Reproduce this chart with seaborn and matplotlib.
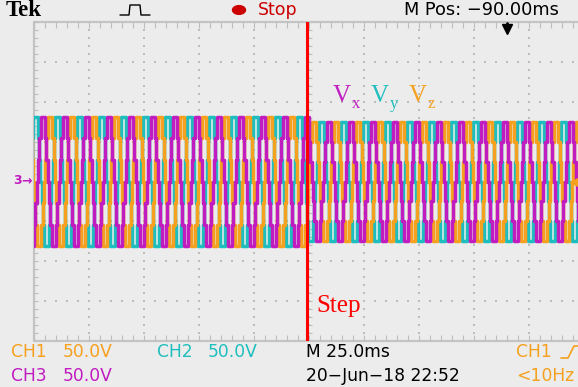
import numpy as np
import pandas as pd
import matplotlib
matplotlib.use("Agg")
import matplotlib.pyplot as plt
import seaborn as sns
from matplotlib.patches import Circle
from matplotlib.lines import Line2D

# ---- scope settings -------------------------------------------------------
time_per_div_ms = 25.0
volts_per_div = 50.0
period_ms = 10.0            # 100 Hz fundamental
step_time_ms = -1.0         # instant of the step change
trigger_pos_ms = 90.0

# seven-level staircase: switching angles (deg) of the first quarter cycle
# and the voltage of one level before / after the step
switch_angles_deg = [9.6, 30.0, 56.4]
level_volts_before = 27.0
level_volts_after = 25.0

# channels: rising zero crossing of each phase (ms)
channels = ["CH3", "CH2", "CH1"]
channel_subs = ["x", "y", "z"]
zero_cross_ms = [6.5, 3.17, 9.83]
colors = {"CH1": "#f5a01e", "CH2": "#1fbebe", "CH3": "#c01cc0"}

# one cycle of (angle, level index) transitions
a1, a2, a3 = switch_angles_deg
cycle = [(0, 0), (a1, 1), (a2, 2), (a3, 3), (180 - a3, 2), (180 - a2, 1),
         (180 - a1, 0), (180 + a1, -1), (180 + a2, -2), (180 + a3, -3),
         (360 - a3, -2), (360 - a2, -1), (360 - a1, 0)]

# ---- build the stepped traces ---------------------------------------------
t_start, t_end = -125.0, -125.0 + 544 / 55 * time_per_div_ms
rows = []
for ch, zc in zip(channels, zero_cross_ms):
    n0 = int(np.floor((t_start - zc) / period_ms)) - 1
    n1 = int(np.ceil((t_end - zc) / period_ms)) + 1
    for n in range(n0, n1 + 1):
        for ang, lvl in cycle:
            t = zc + (n + ang / 360.0) * period_ms
            step = level_volts_before if t < step_time_ms else level_volts_after
            rows.append((t, lvl * step, ch))
df = pd.DataFrame(rows, columns=["t", "v", "channel"])

# ---- figure ----------------------------------------------------------------
sns.set_theme(style="white")
plt.rcParams["font.family"] = ["DejaVu Sans"]
W, H = 578, 387
fig = plt.figure(figsize=(W / 100, H / 100), dpi=100, facecolor="#ececec")

left, top, bottom = 34, 22, 341
ax = fig.add_axes([left / W, (H - bottom) / H, (W - left) / W, (bottom - top) / H])
ax.set_facecolor("white")
ax.set_axis_off()

grid_c = "#bdbdbd"
# graticule dots
xs_minor = np.arange(-125, 126, time_per_div_ms / 5)
ys_minor = np.arange(-200, 201, volts_per_div / 5)
for k in range(1, 10):
    xg = -125 + k * time_per_div_ms
    ax.scatter(np.full_like(ys_minor, xg), ys_minor, s=1.6, marker="s",
               color=grid_c, linewidths=0, zorder=1)
for m in range(1, 8):
    yg = -200 + m * volts_per_div
    ax.scatter(xs_minor, np.full_like(xs_minor, yg), s=1.6, marker="s",
               color=grid_c, linewidths=0, zorder=1)
# centre-line ticks
ax.vlines(xs_minor, -3.5, 3.5, color=grid_c, lw=0.8, zorder=1)
ax.hlines(ys_minor, -1.4, 1.4, color=grid_c, lw=0.8, zorder=1)
# frame with edge ticks
frame_c = "#c4c4c4"
ax.plot([t_start, t_end], [200, 200], color=frame_c, lw=1.6, zorder=1, clip_on=False)
ax.plot([t_start, t_end], [-200, -200], color=frame_c, lw=1.6, zorder=1, clip_on=False)
ax.plot([t_start, t_start], [-200, 200], color=frame_c, lw=1.6, zorder=1, clip_on=False)
ax.vlines(xs_minor, 193, 200, color=grid_c, lw=0.8, zorder=1)
ax.vlines(xs_minor, -200, -193, color=grid_c, lw=0.8, zorder=1)
ax.hlines(ys_minor, -125, -123.2, color=grid_c, lw=0.8, zorder=1)

# traces
sns.lineplot(data=df, x="t", y="v", hue="channel",
             hue_order=["CH2", "CH1", "CH3"], palette=colors,
             estimator=None, sort=False, drawstyle="steps-post",
             lw=2.5, legend=False, ax=ax, zorder=3)
ax.set_xlim(t_start, t_end)
ax.set_ylim(-4 * volts_per_div, 4 * volts_per_div)

# step marker
ax.axvline(step_time_ms, color="#ff0000", lw=2.2, zorder=4)
ax.text(step_time_ms + 4.5, -156, "Step", color="#ff0000", fontsize=18,
        family="Liberation Serif", va="center", ha="left", zorder=5)

# phase labels
lab_x = [333, 371, 409]
for ch, s, xp in zip(channels, channel_subs, lab_x):
    fig.text(xp / W, 1 - 96 / H, "V", color=colors[ch], fontsize=18,
             family="Liberation Serif", va="center", ha="left")
    fig.text((xp + 19) / W, 1 - 104 / H, s, color=colors[ch], fontsize=12,
             family="Liberation Serif", va="center", ha="left")

# trigger position and level markers
ax.plot([trigger_pos_ms], [191], marker="v", ms=7, color="black",
        clip_on=False, zorder=6)
ax.plot([trigger_pos_ms, trigger_pos_ms], [191, 199], color="black", lw=2,
        clip_on=False, zorder=6)
ax.plot([t_end - 1.0], [0], marker="<", ms=8, color=colors["CH1"],
        clip_on=False, zorder=6)

# ---- status text ----------------------------------------------------------
def px(x, y, s, c="black", size=12.3, **kw):
    fig.text(x / W, 1 - y / H, s, color=c, va="center", ha="left",
             fontsize=size, **kw)

px(6, 10, "Tek", family="Liberation Serif", size=16.5, weight="bold")
fig.add_artist(Line2D(np.array([120, 129, 130, 135, 136, 140, 141, 150]) / W,
                      1 - np.array([15, 15, 5, 5, 5, 5, 15, 15]) / H,
                      color="black", lw=1.0))
fig.add_artist(Circle((239 / W, 1 - 10 / H), 6.5 / W, color="#cc0000",
                      transform=fig.transFigure))
px(258, 10, "Stop", "#cc0000", size=12.5)
px(404, 10, "M Pos: \u221290.00ms", size=12.8)

px(11, 352, "CH1", colors["CH1"])
px(63, 352, "50.0V", colors["CH1"])
px(157, 352, "CH2", colors["CH2"])
px(208, 352, "50.0V", colors["CH2"])
px(306, 352, "M 25.0ms")
px(516, 352, "CH1", colors["CH1"])
fig.add_artist(Line2D(np.array([561, 568, 574, 578]) / W,
                      1 - np.array([358, 358, 346, 346]) / H,
                      color=colors["CH1"], lw=1.2))
px(11, 376, "CH3", colors["CH3"])
px(63, 376, "50.0V", colors["CH3"])
px(306, 376, "20\u2212Jun\u221218 22:52")
px(516, 376, "<10Hz", colors["CH1"])

px(13, 181, "3", colors["CH3"], size=9, weight="bold")
px(21, 181, "\u2192", colors["CH3"], size=9, weight="bold")

fig.savefig("out.png", dpi=100, facecolor=fig.get_facecolor())
